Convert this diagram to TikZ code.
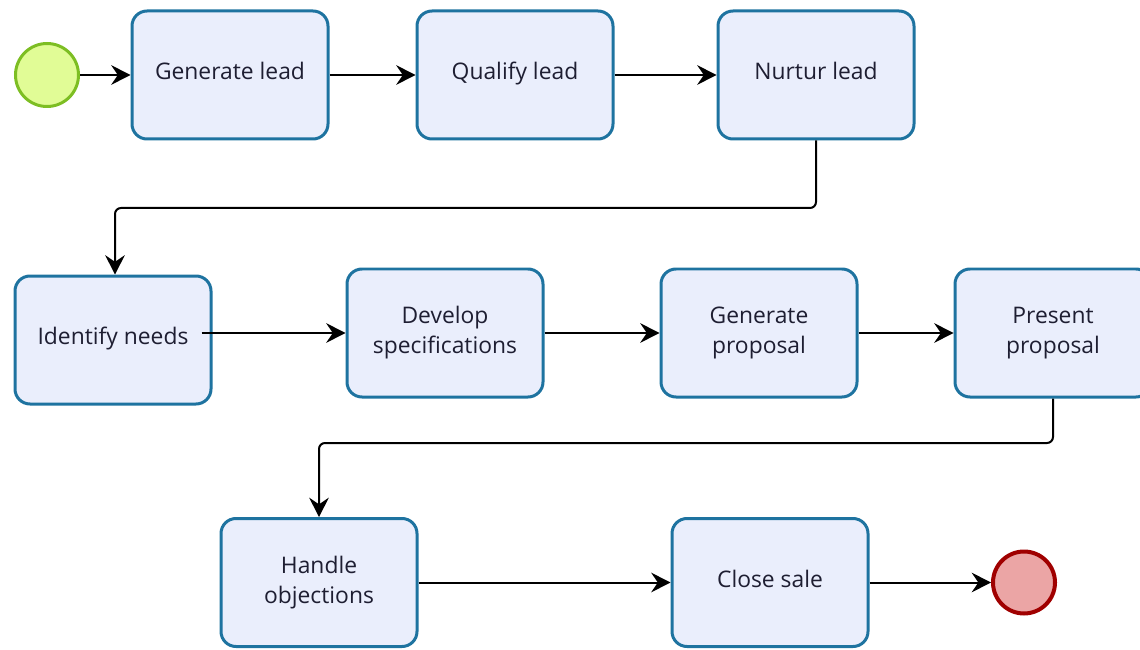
\documentclass[tikz,border=0pt]{standalone}
\usepackage{fontspec}
\setmainfont{Open Sans}
\usetikzlibrary{arrows.meta}
\definecolor{taskfill}{RGB}{234,238,252}
\definecolor{taskline}{RGB}{30,115,160}
\definecolor{startfill}{RGB}{225,252,150}
\definecolor{startline}{RGB}{125,190,35}
\definecolor{endfill}{RGB}{235,165,165}
\definecolor{endline}{RGB}{160,0,0}
\definecolor{textcol}{RGB}{30,30,50}
\begin{document}
\begin{tikzpicture}[
  task/.style={draw=taskline, fill=taskfill, line width=0.03cm, rounded corners=0.15cm,
    minimum width=1.96cm, minimum height=1.28cm, align=center, text=textcol,
    font=\fontsize{6.5}{8.5}\selectfont},
  oneline/.style={text height=1.1ex, text depth=0.6ex},
  startev/.style={circle, draw=startline, fill=startfill, line width=0.03cm, minimum size=0.63cm},
  endev/.style={circle, draw=endline, fill=endfill, line width=0.04cm, minimum size=0.62cm},
  flow/.style={-{Stealth[length=5.5pt,width=5.6pt,inset=1.9pt]}, line width=0.02cm, black},
  ]
  \useasboundingbox (0,0) rectangle (11.40,6.49);

  \node [startev] (S) at (0.47,5.74) {};
  \node [task, oneline] (GL) at (2.30,5.74) {Generate lead};
  \node [task, oneline] (QL) at (5.15,5.74) {Qualify lead};
  \node [task, oneline] (NL) at (8.16,5.74) {Nurtur lead};
  \draw [flow] (S) -- (GL);
  \draw [flow] (GL) -- (QL);
  \draw [flow] (QL) -- (NL);

  \node [task, oneline] (IN) at (1.13,3.09) {Identify needs};
  \node [task] (DS) at (4.45,3.16) {Develop\\specifications};
  \node [task] (GP) at (7.59,3.16) {Generate\\proposal};
  \node [task] (PP) at (10.53,3.16) {Present\\proposal};
  \draw [flow, rounded corners=0.06cm] (NL.south) -- (NL.south |- 0,4.41) -| ([xshift=0.02cm]IN.north);
  \draw [flow] ([xshift=-0.11cm]IN.east |- DS.west) -- (DS.west);
  \draw [flow] (DS) -- (GP);
  \draw [flow] (GP) -- (PP);

  \node [task] (HO) at (3.19,0.665) {Handle\\objections};
  \node [task, oneline] (CS) at (7.70,0.665) {Close sale};
  \node [endev] (E) at (10.24,0.665) {};
  \draw [flow, rounded corners=0.06cm] (PP.south) -- (PP.south |- 0,2.06) -| (HO.north);
  \draw [flow] (HO) -- (CS);
  \draw [flow] (CS) -- (E);
\end{tikzpicture}
\end{document}
